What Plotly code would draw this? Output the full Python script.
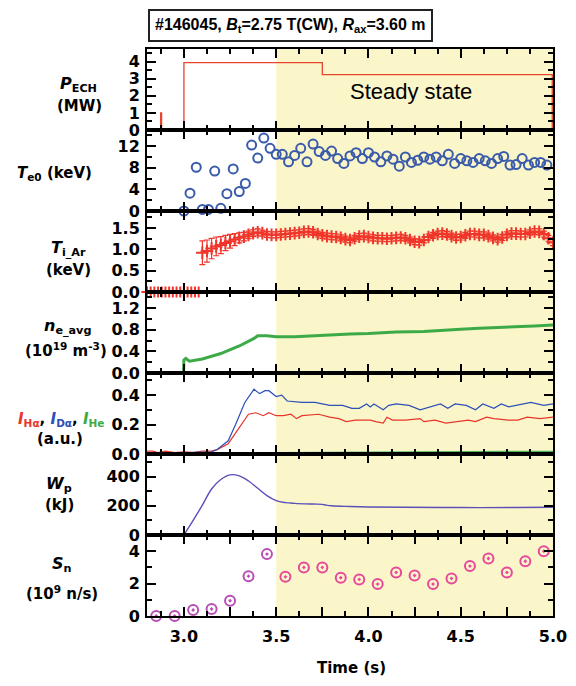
import plotly.graph_objects as go
from plotly.subplots import make_subplots

# ---------------- data ----------------
# P_ECH (MW), step signal
pech_t = [2.80, 2.874, 2.879, 3.00, 3.75, 4.996, 5.00]
pech_v = [0.0, 1.0, 0.0, 3.95, 3.25, 0.0, 0.0]

# Te0 (keV)
te_t = [3.000, 3.033, 3.067, 3.100, 3.133, 3.167, 3.200, 3.233, 3.267, 3.300,
        3.333, 3.367, 3.400, 3.433, 3.467, 3.500, 3.533, 3.567, 3.600, 3.633,
        3.667, 3.700, 3.733, 3.767, 3.800, 3.833, 3.867, 3.900, 3.933, 3.967,
        4.000, 4.033, 4.067, 4.100, 4.133, 4.167, 4.200, 4.233, 4.267, 4.300,
        4.333, 4.367, 4.400, 4.433, 4.467, 4.500, 4.533, 4.567, 4.600, 4.633,
        4.667, 4.700, 4.733, 4.767, 4.800, 4.833, 4.867, 4.900, 4.933, 4.967]
te_v = [0.0, 3.3, 8.1, 0.3, 0.3, 7.4, 0.5, 3.2, 7.8, 3.6,
        5.1, 12.2, 9.8, 13.5, 11.6, 10.5, 10.5, 9.1, 10.3, 11.6,
        9.1, 12.4, 11.0, 10.3, 11.1, 9.7, 8.8, 10.2, 10.8, 9.7,
        10.8, 10.0, 9.1, 10.2, 9.6, 8.3, 10.0, 9.0, 9.4, 10.0,
        9.6, 10.0, 9.3, 10.5, 8.8, 9.7, 9.3, 9.0, 9.7, 9.3,
        8.8, 9.7, 10.1, 8.5, 8.6, 9.7, 8.5, 9.0, 9.0, 8.5]

# Ti_Ar (keV): points before onset (zero) and main series
ti0_t = [2.80, 2.82, 2.84, 2.86, 2.88, 2.90, 2.92, 2.94, 2.96, 2.98, 3.00, 3.02, 3.04, 3.06, 3.08]
ti0_v = [0.0, 0.0, 0.0, 0.0, 0.0, 0.0, 0.0, 0.0, 0.0, 0.0, 0.0, 0.0, 0.0, 0.0, 0.0]
ti0_e = [0.03, 0.03, 0.03, 0.03, 0.03, 0.03, 0.03, 0.03, 0.03, 0.03, 0.03, 0.03, 0.03, 0.03, 0.03]
ti_t = [3.100, 3.125, 3.150, 3.175, 3.200, 3.225, 3.250, 3.275, 3.300, 3.325, 3.350, 3.375, 3.400,
        3.425, 3.450, 3.475, 3.500, 3.525, 3.550, 3.575, 3.600, 3.625, 3.650, 3.675, 3.700,
        3.725, 3.750, 3.775, 3.800, 3.825, 3.850, 3.875, 3.900, 3.925, 3.950, 3.975, 4.000,
        4.025, 4.050, 4.075, 4.100, 4.125, 4.150, 4.175, 4.200, 4.225, 4.250, 4.275, 4.300,
        4.325, 4.350, 4.375, 4.400, 4.425, 4.450, 4.475, 4.500, 4.525, 4.550, 4.575, 4.600,
        4.625, 4.650, 4.675, 4.700, 4.725, 4.750, 4.775, 4.800, 4.825, 4.850, 4.875, 4.900,
        4.925, 4.950, 4.975, 5.000]
ti_v = [0.92, 0.96, 1.02, 1.07, 1.10, 1.15, 1.19, 1.23, 1.27, 1.30, 1.34, 1.38, 1.40,
        1.38, 1.35, 1.34, 1.34, 1.35, 1.36, 1.37, 1.38, 1.39, 1.41, 1.42, 1.40,
        1.36, 1.33, 1.31, 1.30, 1.29, 1.27, 1.24, 1.22, 1.26, 1.30, 1.31, 1.29,
        1.27, 1.26, 1.26, 1.25, 1.26, 1.27, 1.28, 1.26, 1.22, 1.18, 1.17, 1.22,
        1.29, 1.33, 1.36, 1.37, 1.35, 1.31, 1.28, 1.29, 1.33, 1.36, 1.36, 1.34,
        1.34, 1.31, 1.27, 1.24, 1.28, 1.34, 1.37, 1.37, 1.36, 1.36, 1.39, 1.42,
        1.41, 1.36, 1.26, 1.16]
ti_e = [0.28, 0.26, 0.24, 0.22, 0.20, 0.18, 0.16, 0.14, 0.12, 0.10, 0.09, 0.08, 0.08,
        0.07, 0.07, 0.07, 0.07, 0.07, 0.07, 0.07, 0.07, 0.07, 0.07, 0.07, 0.07,
        0.07, 0.07, 0.07, 0.07, 0.07, 0.07, 0.07, 0.07, 0.07, 0.07, 0.07, 0.07,
        0.07, 0.07, 0.07, 0.07, 0.07, 0.07, 0.07, 0.07, 0.07, 0.07, 0.07, 0.07,
        0.07, 0.07, 0.07, 0.07, 0.07, 0.07, 0.07, 0.07, 0.07, 0.07, 0.07, 0.07,
        0.07, 0.07, 0.07, 0.07, 0.07, 0.07, 0.07, 0.07, 0.07, 0.07, 0.07, 0.07,
        0.07, 0.07, 0.07, 0.07]

# ne_avg (1e19 m^-3)
ne_t = [2.80, 2.998, 3.000, 3.010, 3.030, 3.10, 3.20, 3.30, 3.38, 3.40, 3.45, 3.50,
        3.60, 3.70, 3.80, 3.90, 4.00, 4.15, 4.30, 4.45, 4.50, 4.60, 4.69, 4.80, 4.90, 5.00]
ne_v = [0.0, 0.0, 0.24, 0.27, 0.22, 0.26, 0.36, 0.50, 0.64, 0.69, 0.69, 0.67,
        0.67, 0.69, 0.71, 0.72, 0.73, 0.76, 0.77, 0.79, 0.81, 0.83, 0.84, 0.85, 0.87, 0.89]

# Line intensities (a.u.)
iD_t = [2.80, 2.90, 3.00, 3.10, 3.15, 3.18, 3.24, 3.28, 3.33, 3.38, 3.41, 3.44, 3.46, 3.50, 3.53,
        3.56, 3.64, 3.71, 3.79, 3.86, 3.91, 3.95, 3.99, 4.01, 4.03, 4.08, 4.11, 4.15, 4.22, 4.28,
        4.33, 4.39, 4.43, 4.47, 4.53, 4.58, 4.62, 4.68, 4.72, 4.76, 4.88, 4.95, 5.00]
iD_v = [0.01, 0.005, 0.01, 0.01, 0.015, 0.03, 0.09, 0.20, 0.35, 0.44, 0.41, 0.43, 0.43, 0.39, 0.40,
        0.36, 0.35, 0.35, 0.33, 0.33, 0.31, 0.31, 0.34, 0.32, 0.34, 0.30, 0.33, 0.34, 0.33, 0.30,
        0.32, 0.34, 0.31, 0.34, 0.33, 0.30, 0.34, 0.31, 0.34, 0.32, 0.35, 0.33, 0.34]
iH_t = [2.80, 2.83, 2.86, 2.90, 2.95, 3.00, 3.05, 3.10, 3.15, 3.18, 3.24, 3.30, 3.35, 3.39, 3.43,
        3.46, 3.50, 3.54, 3.58, 3.61, 3.64, 3.73, 3.79, 3.84, 3.88, 3.93, 4.01, 4.04, 4.08, 4.10,
        4.13, 4.20, 4.28, 4.30, 4.36, 4.42, 4.49, 4.54, 4.58, 4.64, 4.68, 4.76, 4.81, 4.86, 4.93, 5.00]
iH_v = [0.02, 0.02, 0.01, 0.02, 0.01, 0.015, 0.01, 0.02, 0.02, 0.03, 0.07, 0.18, 0.27, 0.28, 0.26,
        0.28, 0.26, 0.26, 0.27, 0.24, 0.26, 0.27, 0.25, 0.24, 0.22, 0.23, 0.23, 0.22, 0.21, 0.25,
        0.23, 0.23, 0.24, 0.22, 0.23, 0.21, 0.22, 0.23, 0.22, 0.25, 0.24, 0.23, 0.23, 0.25, 0.24, 0.25]
iHe_t = [2.80, 3.30, 3.50, 4.00, 4.50, 5.00]
iHe_v = [0.0, 0.002, 0.006, 0.010, 0.013, 0.016]

# Wp (kJ)
wp_t = [3.00, 3.05, 3.10, 3.15, 3.20, 3.25, 3.30, 3.35, 3.40, 3.45, 3.50, 3.55, 3.60,
        3.70, 3.75, 3.77, 3.80, 3.90, 4.00, 4.20, 4.50, 4.80, 5.00]
wp_v = [0, 100, 205, 315, 380, 412, 405, 370, 320, 270, 235, 222, 217,
        212, 210, 205, 200, 195, 192, 190, 188, 188, 190]

# Sn (1e9 n/s)
sn_t = [2.85, 2.95, 3.05, 3.15, 3.25, 3.35, 3.45, 3.55, 3.65, 3.75, 3.85,
        3.95, 4.05, 4.15, 4.25, 4.35, 4.45, 4.55, 4.65, 4.75, 4.85, 4.95]
sn_v = [0.0, 0.0, 0.37, 0.43, 0.94, 2.46, 3.82, 2.42, 3.0, 3.0, 2.36,
        2.26, 1.97, 2.69, 2.5, 1.97, 2.32, 3.08, 3.55, 2.69, 3.38, 4.0]

x_tickvals = [3.0, 3.25, 3.5, 3.75, 4.0, 4.25, 4.5, 4.75, 5.0]
x_ticktext = ['3.0', '', '3.5', '', '4.0', '', '4.5', '', '5.0']

# ---------------- figure ----------------
# the page puts the figure 8 px in from the top-left corner of the window
OFF = 8
W, H = 576, 686
ML, MT = 147 - OFF, 49 - OFF
MR = W - (553 - OFF)
MB = H - (616 - OFF)
PW, PH = W - ML - MR, H - MT - MB

fig = make_subplots(rows=7, cols=1, shared_xaxes=True, vertical_spacing=0)

fig.add_trace(go.Scatter(x=pech_t, y=pech_v, mode='lines',
                         line=dict(color='#E8452F', width=1.3, shape='hv')), row=1, col=1)

fig.add_trace(go.Scatter(x=te_t, y=te_v, mode='markers', cliponaxis=False,
                         marker=dict(symbol='circle-open', size=9, color='#3A5BAA',
                                     line=dict(width=2, color='#3A5BAA'))), row=2, col=1)

ti_col = '#F0352B'
fig.add_trace(go.Scatter(x=ti0_t, y=ti0_v, mode='markers', cliponaxis=False,
                         error_y=dict(type='data', array=ti0_e, color=ti_col, thickness=1.2, width=2),
                         marker=dict(symbol='cross-thin-open', size=8, color=ti_col,
                                     line=dict(width=2, color=ti_col))), row=3, col=1)
fig.add_trace(go.Scatter(x=ti_t, y=ti_v, mode='markers',
                         error_y=dict(type='data', array=ti_e, color=ti_col, thickness=1.2, width=3),
                         marker=dict(symbol='cross-thin-open', size=9, color=ti_col,
                                     line=dict(width=2, color=ti_col))), row=3, col=1)

fig.add_trace(go.Scatter(x=ne_t, y=ne_v, mode='lines',
                         line=dict(color='#3DAA48', width=3)), row=4, col=1)

fig.add_trace(go.Scatter(x=iHe_t, y=iHe_v, mode='lines',
                         line=dict(color='#4DB453', width=2)), row=5, col=1)
fig.add_trace(go.Scatter(x=iH_t, y=iH_v, mode='lines',
                         line=dict(color='#E8352C', width=1.2)), row=5, col=1)
fig.add_trace(go.Scatter(x=iD_t, y=iD_v, mode='lines',
                         line=dict(color='#2D4FB8', width=1.2)), row=5, col=1)

fig.add_trace(go.Scatter(x=wp_t, y=wp_v, mode='lines', line_shape='spline',
                         line=dict(color='#5A50B8', width=1.4)), row=6, col=1)

sn_cols = ['#B84DB5'] * 7 + ['#E8489A'] * 15
fig.add_trace(go.Scatter(x=sn_t, y=sn_v, mode='markers', cliponaxis=False,
                         marker=dict(symbol='circle-open-dot', size=10, color=sn_cols,
                                     line=dict(width=2, color=sn_cols))), row=7, col=1)

TF = dict(family='DejaVu Sans', size=16, color='black', weight='bold')
for r in range(1, 8):
    fig.update_xaxes(row=r, col=1, range=[2.8, 5.0], tickmode='array',
                     tickvals=x_tickvals, ticktext=x_ticktext, automargin=False,
                     ticks='inside', ticklen=9, tickwidth=1.5, tickcolor='black',
                     showline=True, linecolor='black', linewidth=2, mirror='ticks',
                     showgrid=False, zeroline=False,
                     minor=dict(tickmode='linear', tick0=3.0, dtick=0.125, ticks='inside',
                                ticklen=5, tickwidth=1.5, tickcolor='black'),
                     showticklabels=(r == 7), tickfont=TF, ticklabelstandoff=5)

yconf = [
    (1, [0, 4.75], 1, 0.5, 'd'),
    (2, [0, 15], 4, 2, 'd'),
    (3, [0, 1.9], 0.5, 0.25, '.1f'),
    (4, [0, 1.5], 0.4, 0.2, '.1f'),
    (5, [0, 0.55], 0.2, 0.1, '.1f'),
    (6, [0, 555], 200, 100, 'd'),
    (7, [0, 5], 2, 1, 'd'),
]
for r, rng, dt, mdt, fmt in yconf:
    fig.update_yaxes(row=r, col=1, range=rng, tickmode='linear', tick0=0, dtick=dt,
                     tickformat=fmt, automargin=False,
                     ticks='inside', ticklen=9, tickwidth=1.5, tickcolor='black',
                     showline=True, linecolor='black', linewidth=2, mirror='ticks',
                     showgrid=False, zeroline=False, tickfont=TF, ticklabelstandoff=2,
                     minor=dict(tickmode='linear', tick0=0, dtick=mdt, ticks='inside',
                                ticklen=5, tickwidth=1.5, tickcolor='black'))

# steady state shading
fig.add_shape(type='rect', xref='x', yref='paper', x0=3.5, x1=5.0, y0=0, y1=1,
              fillcolor='rgb(250,246,202)', line=dict(width=0), layer='below')


def px(xs):
    # screen pixel -> paper x
    return (xs - OFF - ML) / PW


def py(ys):
    # screen pixel -> paper y
    return (H - MB - (ys - OFF)) / PH


LF = dict(family='DejaVu Sans', size=15, color='black')
labels = [
    ('<b><i>P</i><sub>ECH</sub></b>', 78, 84, 16),
    ('<b>(MW)</b>', 79, 106, 15),
    ('<b><i>T</i><sub>e0</sub> (keV)</b>', 54, 173, 15),
    ('<b><i>T</i><sub>i_Ar</sub></b>', 68, 248, 16),
    ('<b>(keV)</b>', 68, 270, 15),
    ('<b><i>n</i><sub>e_avg</sub></b>', 67, 326, 16),
    ('<b>(10<sup>19</sup> m<sup>-3</sup>)</b>', 66, 350, 15),
    ('<b><span style="color:#E8352C"><i>I</i><sub>Hα</sub></span>, '
     '<span style="color:#2D4FB8"><i>I</i><sub>Dα</sub></span>, '
     '<span style="color:#3DAA48"><i>I</i><sub>He</sub></span></b>', 61, 419, 15),
    ('<b>(a.u.)</b>', 60, 439, 15),
    ('<b><i>W</i><sub>p</sub></b>', 59, 484, 16),
    ('<b>(kJ)</b>', 59, 505, 15),
    ('<b><i>S</i><sub>n</sub></b>', 62, 564, 16),
    ('<b>(10<sup>9</sup> n/s)</b>', 62, 593, 15),
]
for txt, xx, yy, sz in labels:
    fig.add_annotation(text=txt, xref='paper', yref='paper', x=px(xx), y=py(yy),
                       xanchor='center', yanchor='middle', showarrow=False,
                       font=dict(family='DejaVu Sans', size=sz, color='black'))

fig.add_annotation(text='<b>Time (s)</b>', xref='paper', yref='paper', x=px(351), y=py(668),
                   xanchor='center', yanchor='middle', showarrow=False, font=LF)

fig.add_annotation(text='Steady state', xref='x', yref='y', x=4.23, y=2.27,
                   xanchor='center', yanchor='middle', showarrow=False,
                   font=dict(family='Liberation Sans', size=22, color='black'))

fig.add_annotation(text='<b>#146045, <i>B</i><sub>t</sub>=2.75 T(CW), <i>R</i><sub>ax</sub>=3.60 m</b>',
                   xref='paper', yref='paper', x=px(290), y=py(26),
                   xanchor='center', yanchor='middle', showarrow=False,
                   font=dict(family='Liberation Sans', size=16, color='black'),
                   bordercolor='#222222', borderwidth=2, borderpad=5, bgcolor='white')

fig.update_layout(width=W, height=H, margin=dict(l=ML, r=MR, t=MT, b=MB, autoexpand=False),
                  paper_bgcolor='white', plot_bgcolor='white', showlegend=False)

fig.write_html('out.html')
